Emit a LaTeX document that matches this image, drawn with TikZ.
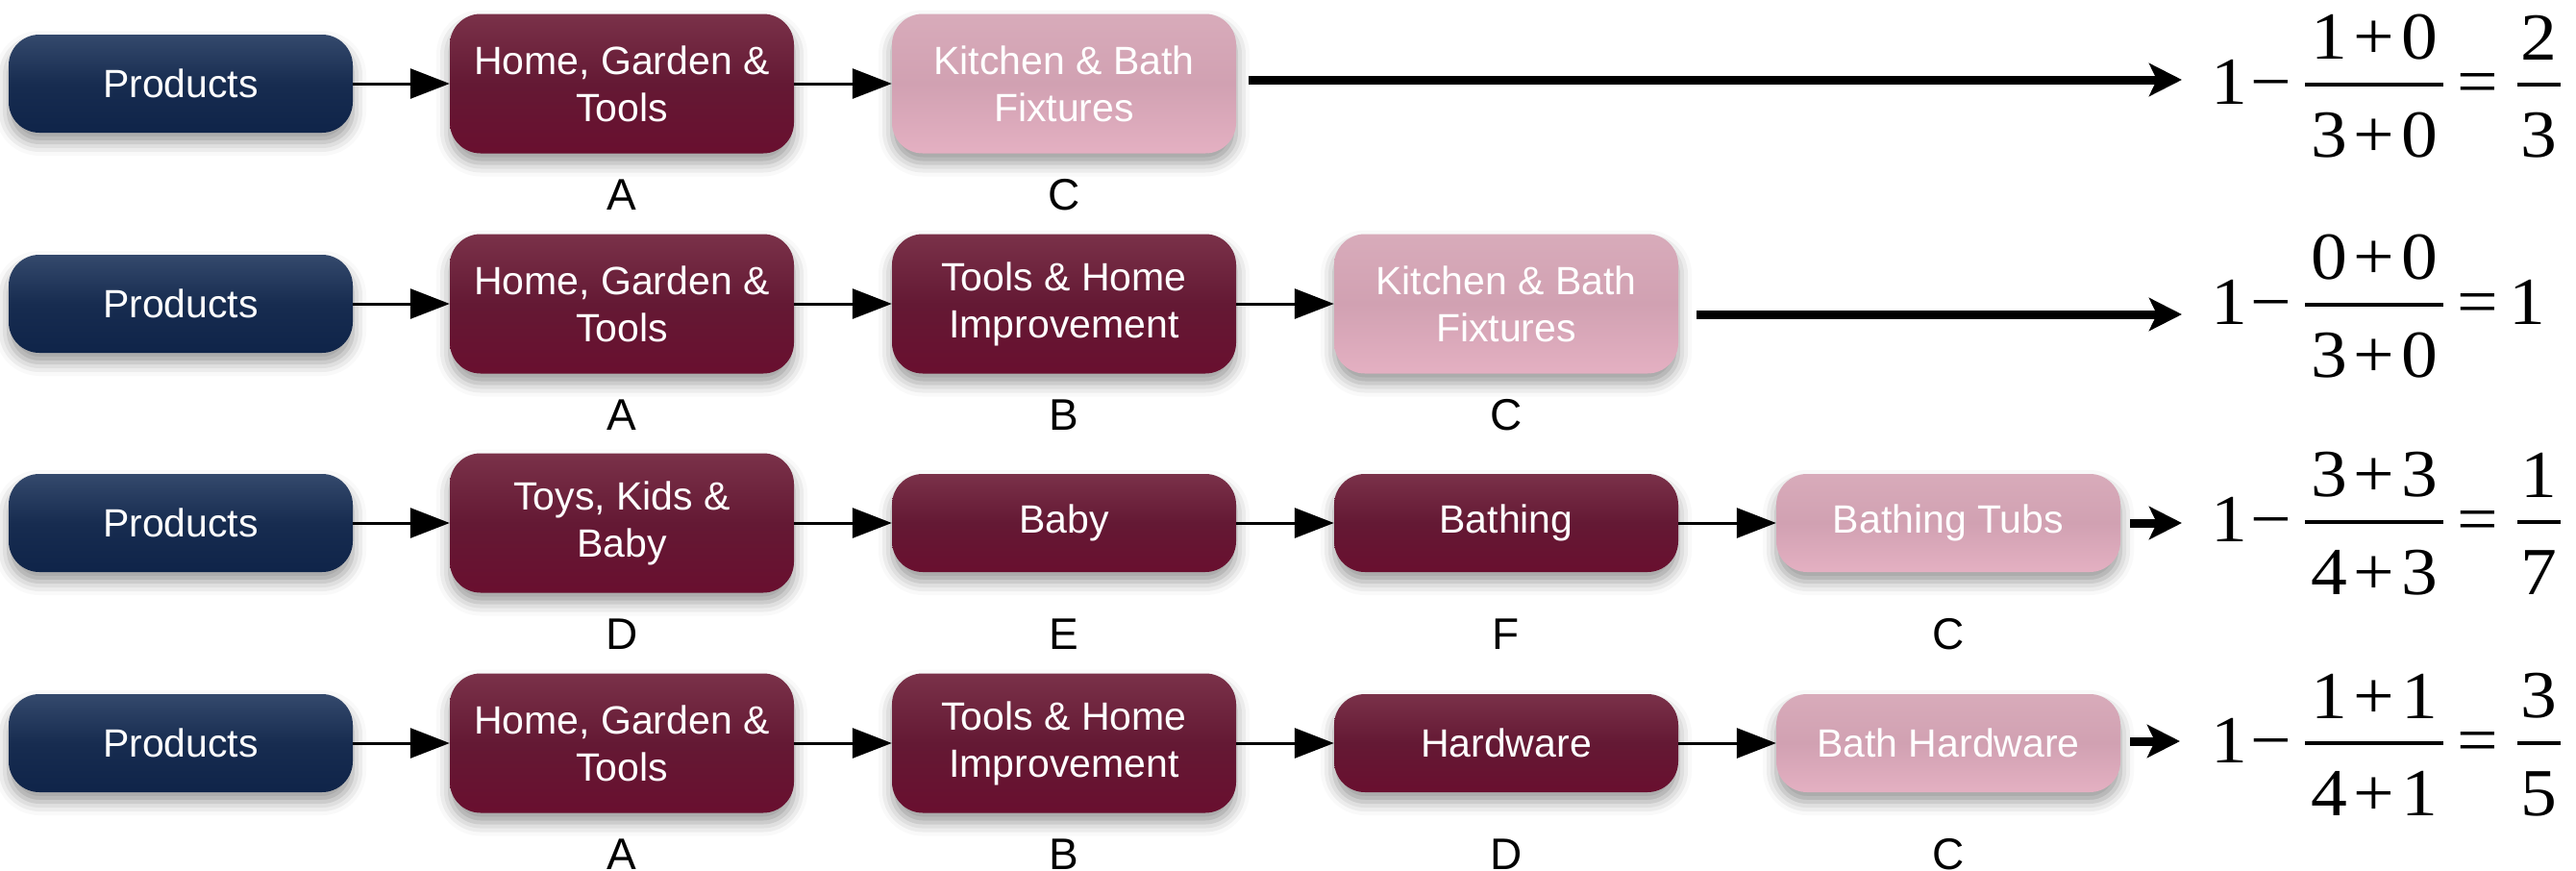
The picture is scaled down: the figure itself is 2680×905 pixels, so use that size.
\documentclass[tikz,border=0pt]{standalone}
\usepackage{fontspec}
\usepackage{graphicx}
\setmainfont{Liberation Sans}
\newfontfamily\tnr{Liberation Serif}
\usetikzlibrary{arrows.meta,shadows.blur}
\definecolor{navyT}{HTML}{34496C}
\definecolor{navyM}{HTML}{172C50}
\definecolor{navyB}{HTML}{0F2449}
\definecolor{marT}{HTML}{7A3149}
\definecolor{marM}{HTML}{641934}
\definecolor{marB}{HTML}{690F2F}
\definecolor{pinkT}{HTML}{D8ABBA}
\definecolor{pinkM}{HTML}{D1A1B2}
\definecolor{pinkB}{HTML}{E4B0C2}
% fraction box: #1 width, #2 numerator, #3 denominator
\newcommand\fb[3]{\raisebox{-55pt}{\vbox{\hbox to #1{\hss#2\hss}\kern23.6pt\hrule height 4.8pt\kern22.6pt\hbox to #1{\hss\rule{0pt}{50pt}#3\hss}}}}
\newcommand\pl{\kern6pt+\kern6pt}
% formula: #1 fraction, #2 kern after =, #3 result
\newcommand\fml[3]{\scalebox{1.08}[1]{\tnr 1\kern3pt−\kern13.5pt#1\kern13.6pt=\kern#2#3}}
\tikzset{
  box/.style={rounded corners=32pt, minimum width=358pt, inner sep=0pt,
    align=center, text=white, font=\fontsize{41}{49}\selectfont,
    blur shadow={shadow xshift=0pt, shadow yshift=-10pt, shadow blur radius=14pt, shadow opacity=40}},
  tall/.style={minimum height=145pt},
  short/.style={minimum height=102pt},
  navybox/.style={box, short, top color=navyT, bottom color=navyB, middle color=navyM},
  marbox/.style={box, top color=marT, bottom color=marB, middle color=marM},
  pinkbox/.style={box, top color=pinkT, bottom color=pinkB, middle color=pinkM},
  lbl/.style={anchor=base, inner sep=0pt, font=\fontsize{46}{50}\selectfont},
  formula/.style={anchor=base west, inner sep=0pt, font=\fontsize{70}{74}\selectfont},
  sarrow/.style={draw, line width=3pt, -{Triangle[length=41pt,width=31pt]}},
  larrow/.style={draw, line width=9pt, -{Stealth[length=34pt,width=34pt,inset=8pt]}},
}
\begin{document}
\begin{tikzpicture}[x=1pt,y=-1pt]
\useasboundingbox (0,0) rectangle (2680,905);
% ---------- row 1 ----------
\node[navybox] (p1) at (188,87) {Products};
\node[marbox,tall] (a1) at (647,87) {Home, Garden \&\\Tools};
\node[pinkbox,tall] (k1) at (1107,87) {Kitchen \& Bath\\Fixtures};
\node[lbl] (la1) at (647,218) {A};
\node[lbl] (lk1) at (1107,218) {C};
\coordinate (t1) at (2270,83);
\draw[sarrow] (p1) -- (a1);
\draw[sarrow] (a1) -- (k1);
\draw[larrow] ([xshift=13pt,yshift=4pt]k1.east) -- (t1);
\node[formula] (f1) at (2300,108) {\fml{\fb{133pt}{1\pl0}{3\pl0}}{18pt}{\fb{42pt}{2}{3}}};
% ---------- row 2 ----------
\node[navybox] (p2) at (188,316) {Products};
\node[marbox,tall] (a2) at (647,316) {Home, Garden \&\\Tools};
\node[marbox,tall] (b2) at (1107,316) {Tools \& Home\\Improvement};
\node[pinkbox,tall] (k2) at (1567,316) {Kitchen \& Bath\\Fixtures};
\node[lbl] (la2) at (647,447) {A};
\node[lbl] (lb2) at (1107,447) {B};
\node[lbl] (lk2) at (1567,447) {C};
\coordinate (t2) at (2270,327);
\draw[sarrow] (p2) -- (a2);
\draw[sarrow] (a2) -- (b2);
\draw[sarrow] (b2) -- (k2);
\draw[larrow] ([xshift=19pt,yshift=-11pt]k2.east) -- (t2);
\node[formula] (f2) at (2300,337) {\fml{\fb{133pt}{0\pl0}{3\pl0}}{10.5pt}{1}};
% ---------- row 3 ----------
\node[navybox] (p3) at (188,544) {Products};
\node[marbox,tall] (d3) at (647,544) {Toys, Kids \&\\Baby};
\node[marbox,short] (e3) at (1107,544) {Baby};
\node[marbox,short] (f3) at (1567,544) {Bathing};
\node[pinkbox,short] (c3) at (2027,544) {Bathing Tubs};
\node[lbl] (ld3) at (647,675) {D};
\node[lbl] (le3) at (1107,675) {E};
\node[lbl] (lf3) at (1567,675) {F};
\node[lbl] (lc3) at (2027,675) {C};
\coordinate (t3) at (2270,544);
\draw[sarrow] (p3) -- (d3);
\draw[sarrow] (d3) -- (e3);
\draw[sarrow] (e3) -- (f3);
\draw[sarrow] (f3) -- (c3);
\draw[larrow] ([xshift=10pt]c3.east) -- (t3);
\node[formula] (f3f) at (2300,563) {\fml{\fb{133pt}{3\pl3}{4\pl3}}{18pt}{\fb{42pt}{1}{7}}};
% ---------- row 4 ----------
\node[navybox] (p4) at (188,773) {Products};
\node[marbox,tall] (a4) at (647,773) {Home, Garden \&\\Tools};
\node[marbox,tall] (b4) at (1107,773) {Tools \& Home\\Improvement};
\node[marbox,short] (d4) at (1567,773) {Hardware};
\node[pinkbox,short] (c4) at (2027,773) {Bath Hardware};
\node[lbl] (la4) at (647,904) {A};
\node[lbl] (lb4) at (1107,904) {B};
\node[lbl] (ld4) at (1567,904) {D};
\node[lbl] (lc4) at (2027,904) {C};
\coordinate (t4) at (2268,771);
\draw[sarrow] (p4) -- (a4);
\draw[sarrow] (a4) -- (b4);
\draw[sarrow] (b4) -- (d4);
\draw[sarrow] (d4) -- (c4);
\draw[larrow] ([xshift=10pt,yshift=2pt]c4.east) -- (t4);
\node[formula] (f4) at (2300,793) {\fml{\fb{133pt}{1\pl1}{4\pl1}}{18pt}{\fb{42pt}{3}{5}}};
\end{tikzpicture}
\end{document}
